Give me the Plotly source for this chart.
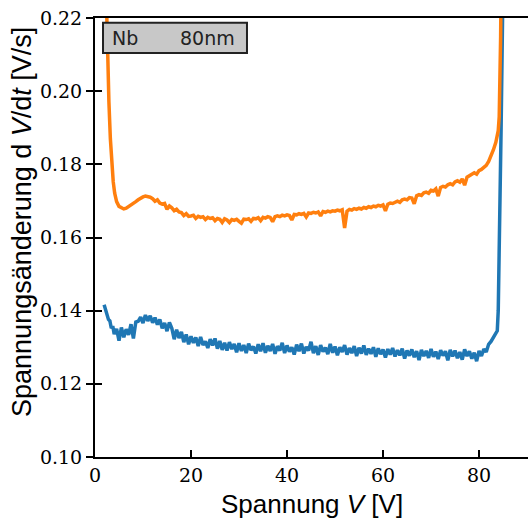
import plotly.graph_objects as go

# ---- data ----
x_orange = [2.0, 2.3, 2.6, 2.9, 3.2, 3.5, 3.8, 4.1, 4.5, 5.0, 5.5,
            6.0, 6.5, 7.0, 7.5, 8.0, 8.5, 9.0, 9.5, 10.0, 10.5, 11.0, 11.5, 12.0, 12.5, 13.0, 13.5,
            14.0, 14.5, 15.0, 15.5, 16.0, 16.5, 17.0, 17.5, 18.0, 18.5, 19.0, 19.5, 20.0, 20.5,
            21.0, 21.5, 22.0, 22.5, 23.0, 23.5, 24.0, 24.5, 25.0, 25.5, 26.0, 26.5, 27.0, 27.5,
            28.0, 28.5, 29.0, 29.5, 30.0, 30.5, 31.0, 31.5, 32.0, 32.5, 33.0, 33.5, 34.0, 34.5,
            35.0, 35.5, 36.0, 36.5, 37.0, 37.5, 38.0, 38.5, 39.0, 39.5, 40.0, 40.5, 41.0, 41.5,
            42.0, 42.5, 43.0, 43.5, 44.0, 44.5, 45.0, 45.5, 46.0, 46.5, 47.0, 47.5, 48.0, 48.5,
            49.0, 49.5, 50.0, 50.5, 51.0, 51.5, 52.0, 52.5, 53.0, 53.5, 54.0, 54.5, 55.0, 55.5,
            56.0, 56.5, 57.0, 57.5, 58.0, 58.5, 59.0, 59.5, 60.0, 60.5, 61.0, 61.5, 62.0, 62.5,
            63.0, 63.5, 64.0, 64.5, 65.0, 65.5, 66.0, 66.5, 67.0, 67.5, 68.0, 68.5, 69.0, 69.5,
            70.0, 70.5, 71.0, 71.5, 72.0, 72.5, 73.0, 73.5, 74.0, 74.5, 75.0, 75.5, 76.0, 76.5,
            77.0, 77.5, 78.0, 78.5, 79.0, 79.5, 80.0, 80.5, 81.0, 81.5, 82.0, 82.5, 83.0, 83.5,
            83.8, 84.0, 84.2, 84.35, 84.5, 84.6]
y_orange = [0.245, 0.226, 0.212, 0.197, 0.187, 0.180, 0.1752, 0.1721, 0.1698, 0.1685, 0.1680,
            0.1678, 0.1680, 0.1684, 0.1688, 0.1693, 0.1698, 0.1703, 0.1708, 0.1711, 0.1713, 0.1712, 0.1710, 0.1706, 0.1699, 0.1703, 0.1694,
            0.1691, 0.1693, 0.1677, 0.1686, 0.1681, 0.1673, 0.1677, 0.1670, 0.1668, 0.1660, 0.1665, 0.1658, 0.1659, 0.1661,
            0.1652, 0.1658, 0.1655, 0.1657, 0.1649, 0.1655, 0.1652, 0.1654, 0.1646, 0.1652, 0.1650, 0.1641, 0.1651, 0.1648,
            0.1641, 0.1649, 0.1647, 0.1650, 0.1644, 0.1639, 0.1650, 0.1649, 0.1651, 0.1644, 0.1652, 0.1651, 0.1654, 0.1646,
            0.1655, 0.1653, 0.1657, 0.1655, 0.1643, 0.1657, 0.1659, 0.1657, 0.1661, 0.1659, 0.1662, 0.1660, 0.1648, 0.1663,
            0.1662, 0.1665, 0.1663, 0.1666, 0.1656, 0.1667, 0.1666, 0.1669, 0.1667, 0.1670, 0.1659, 0.1671, 0.1669, 0.1672,
            0.1670, 0.1673, 0.1672, 0.1675, 0.1673, 0.1676, 0.1626, 0.1672, 0.1677, 0.1675, 0.1679, 0.1677, 0.1680, 0.1678,
            0.1682, 0.1680, 0.1684, 0.1682, 0.1686, 0.1684, 0.1688, 0.1686, 0.1689, 0.1673, 0.1691, 0.1694, 0.1693, 0.1697,
            0.1699, 0.1696, 0.1703, 0.1705, 0.1703, 0.1709, 0.1708, 0.1692, 0.1714, 0.1717, 0.1715, 0.1722, 0.1724, 0.1721,
            0.1729, 0.1727, 0.1733, 0.1713, 0.1737, 0.1740, 0.1738, 0.1744, 0.1747, 0.1744, 0.1752, 0.1755, 0.1751, 0.1760,
            0.1743, 0.1765, 0.1769, 0.1772, 0.1777, 0.1773, 0.1783, 0.1786, 0.1791, 0.1797, 0.1808, 0.1822, 0.1840, 0.1860,
            0.1876, 0.1892, 0.1930, 0.2000, 0.2150, 0.2300]

x_blue = [1.9, 2.2, 2.5, 2.8, 3.1, 3.4, 3.7, 4.0, 4.5, 5.0, 5.5, 6.0, 6.5, 7.0, 7.5, 8.0, 8.5,
          9.0, 9.5, 10.0, 10.5, 11.0, 11.5, 12.0, 12.5, 13.0, 13.5, 14.0, 14.5, 15.0, 15.5,
          16.0, 16.5, 17.0, 17.5, 18.0, 18.5, 19.0, 19.5, 20.0, 20.5, 21.0, 21.5, 22.0, 22.5,
          23.0, 23.5, 24.0, 24.5, 25.0, 25.5, 26.0, 26.5, 27.0, 27.5, 28.0, 28.5, 29.0, 29.5,
          30.0, 30.5, 31.0, 31.5, 32.0, 32.5, 33.0, 33.5, 34.0, 34.5, 35.0, 35.5, 36.0, 36.5,
          37.0, 37.5, 38.0, 38.5, 39.0, 39.5, 40.0, 40.5, 41.0, 41.5, 42.0, 42.5, 43.0, 43.5,
          44.0, 44.5, 45.0, 45.5, 46.0, 46.5, 47.0, 47.5, 48.0, 48.5, 49.0, 49.5, 50.0, 50.5,
          51.0, 51.5, 52.0, 52.5, 53.0, 53.5, 54.0, 54.5, 55.0, 55.5, 56.0, 56.5, 57.0, 57.5,
          58.0, 58.5, 59.0, 59.5, 60.0, 60.5, 61.0, 61.5, 62.0, 62.5, 63.0, 63.5, 64.0, 64.5,
          65.0, 65.5, 66.0, 66.5, 67.0, 67.5, 68.0, 68.5, 69.0, 69.5, 70.0, 70.5, 71.0, 71.5,
          72.0, 72.5, 73.0, 73.5, 74.0, 74.5, 75.0, 75.5, 76.0, 76.5, 77.0, 77.5, 78.0, 78.5,
          79.0, 79.5, 80.0, 80.5, 81.0, 81.5, 82.0, 82.5, 83.0, 83.5, 83.8, 84.0, 84.2, 84.4,
          84.6, 84.8, 85.0]
y_blue = [0.1416, 0.1404, 0.1392, 0.1376, 0.1372, 0.1352, 0.1358, 0.1336, 0.1350, 0.1318, 0.1354, 0.1327, 0.1349, 0.1334, 0.1363, 0.1324, 0.1369,
          0.1371, 0.1382, 0.1366, 0.1388, 0.1372, 0.1386, 0.1367, 0.1381, 0.1362, 0.1376, 0.1352, 0.1366, 0.1344, 0.1368,
          0.1352, 0.1322, 0.1348, 0.1325, 0.1342, 0.1314, 0.1335, 0.1308, 0.1330, 0.1312, 0.1327, 0.1303, 0.1328, 0.1306,
          0.1316, 0.1298, 0.1322, 0.1305, 0.1324, 0.1296, 0.1317, 0.1293, 0.1312, 0.1291, 0.1314, 0.1295, 0.1309, 0.1286,
          0.1311, 0.1290, 0.1306, 0.1284, 0.1310, 0.1292, 0.1302, 0.1283, 0.1308, 0.1289, 0.1311, 0.1285, 0.1304, 0.1290,
          0.1309, 0.1282, 0.1303, 0.1291, 0.1312, 0.1284, 0.1305, 0.1288, 0.1300, 0.1280, 0.1307, 0.1289, 0.1310, 0.1283,
          0.1301, 0.1291, 0.1315, 0.1284, 0.1303, 0.1279, 0.1306, 0.1288, 0.1299, 0.1281, 0.1309, 0.1285, 0.1302, 0.1278,
          0.1300, 0.1287, 0.1306, 0.1280, 0.1298, 0.1284, 0.1303, 0.1276, 0.1299, 0.1283, 0.1305, 0.1279, 0.1296, 0.1282,
          0.1300, 0.1274, 0.1297, 0.1281, 0.1294, 0.1272, 0.1295, 0.1280, 0.1298, 0.1275, 0.1292, 0.1278, 0.1296, 0.1269,
          0.1291, 0.1277, 0.1294, 0.1273, 0.1289, 0.1265, 0.1293, 0.1276, 0.1290, 0.1271, 0.1295, 0.1274, 0.1288, 0.1268,
          0.1292, 0.1277, 0.1289, 0.1264, 0.1293, 0.1275, 0.1291, 0.1270, 0.1287, 0.1266, 0.1294, 0.1276, 0.1289, 0.1269,
          0.1285, 0.1262, 0.1290, 0.1276, 0.1295, 0.1287, 0.1308, 0.1316, 0.1326, 0.1336, 0.1345, 0.1400, 0.1540, 0.1720,
          0.1900, 0.2100, 0.2300]

x_ticks = [0, 20, 40, 60, 80]
y_ticks = [0.10, 0.12, 0.14, 0.16, 0.18, 0.20, 0.22]
label_left = "Nb"
label_right = "80nm"
x_title = "Spannung <i>V</i> [V]"
y_title = "Spannungsänderung d <i>V</i>/d<i>t</i> [V/s]"

X_RANGE = [0, 90.2]
Y_RANGE = [0.10, 0.22]

fig = go.Figure()
fig.add_trace(go.Scatter(x=x_blue, y=y_blue, mode="lines",
                         line=dict(color="#1f77b4", width=3.5), showlegend=False))
fig.add_trace(go.Scatter(x=x_orange, y=y_orange, mode="lines",
                         line=dict(color="#ff7f0e", width=3.5), showlegend=False))
# dummy trace on overlay axes (for inside y ticks)
fig.add_trace(go.Scatter(x=[None], y=[None], xaxis="x2", yaxis="y2", showlegend=False))

SERIF = "DejaVu Serif"
tickfont = dict(family=SERIF, size=19, color="black")
titlefont = dict(family="Liberation Sans", size=26, color="black")

fig.update_layout(
    width=528, height=525,
    margin=dict(l=95, r=0, t=18, b=68),
    plot_bgcolor="white", paper_bgcolor="white",
    font=dict(family=SERIF, size=19, color="black"),
    xaxis=dict(range=X_RANGE, tickmode="array", tickvals=x_ticks, ticktext=[str(v) for v in x_ticks],
               ticks="inside", ticklen=7, tickwidth=1.5, tickcolor="black",
               showline=True, linecolor="black", linewidth=2, mirror=True,
               showgrid=False, zeroline=False, tickfont=tickfont),
    yaxis=dict(range=Y_RANGE, tickmode="array", tickvals=y_ticks, ticktext=["%.2f" % v for v in y_ticks],
               ticks="outside", ticklen=7, tickwidth=1.5, tickcolor="black",
               showline=True, linecolor="black", linewidth=2,
               showgrid=False, zeroline=False, tickfont=tickfont),
    xaxis2=dict(range=X_RANGE, overlaying="x", visible=False),
    yaxis2=dict(range=Y_RANGE, overlaying="y", tickvals=y_ticks, ticks="inside", ticklen=7,
                tickwidth=1.5, tickcolor="black", showticklabels=False, showgrid=False,
                zeroline=False, showline=False, anchor="x2"),
)

# axis titles
fig.add_annotation(xref="paper", yref="paper", x=0.501, y=-0.106, text=x_title,
                   showarrow=False, xanchor="center", yanchor="middle", font=titlefont)
fig.add_annotation(xref="paper", yref="paper", x=-0.169, y=0.535, text=y_title, textangle=-90,
                   showarrow=False, xanchor="center", yanchor="middle",
                   font=dict(family="Liberation Sans", size=27, color="black"))

# label box
fig.add_shape(type="rect", xref="paper", yref="paper", x0=0.0185, x1=0.351, y0=0.920, y1=0.989,
              fillcolor="#c8c8c8", line=dict(color="#222222", width=2), layer="above")
fig.add_annotation(xref="paper", yref="paper", x=0.0346, y=0.955, text=label_left,
                   showarrow=False, xanchor="left", yanchor="middle",
                   font=dict(family="DejaVu Sans", size=19, color="#222222"))
fig.add_annotation(xref="paper", yref="paper", x=0.328, y=0.955, text=label_right,
                   showarrow=False, xanchor="right", yanchor="middle",
                   font=dict(family="DejaVu Sans", size=19, color="#222222"))

fig.write_html("out.html")
